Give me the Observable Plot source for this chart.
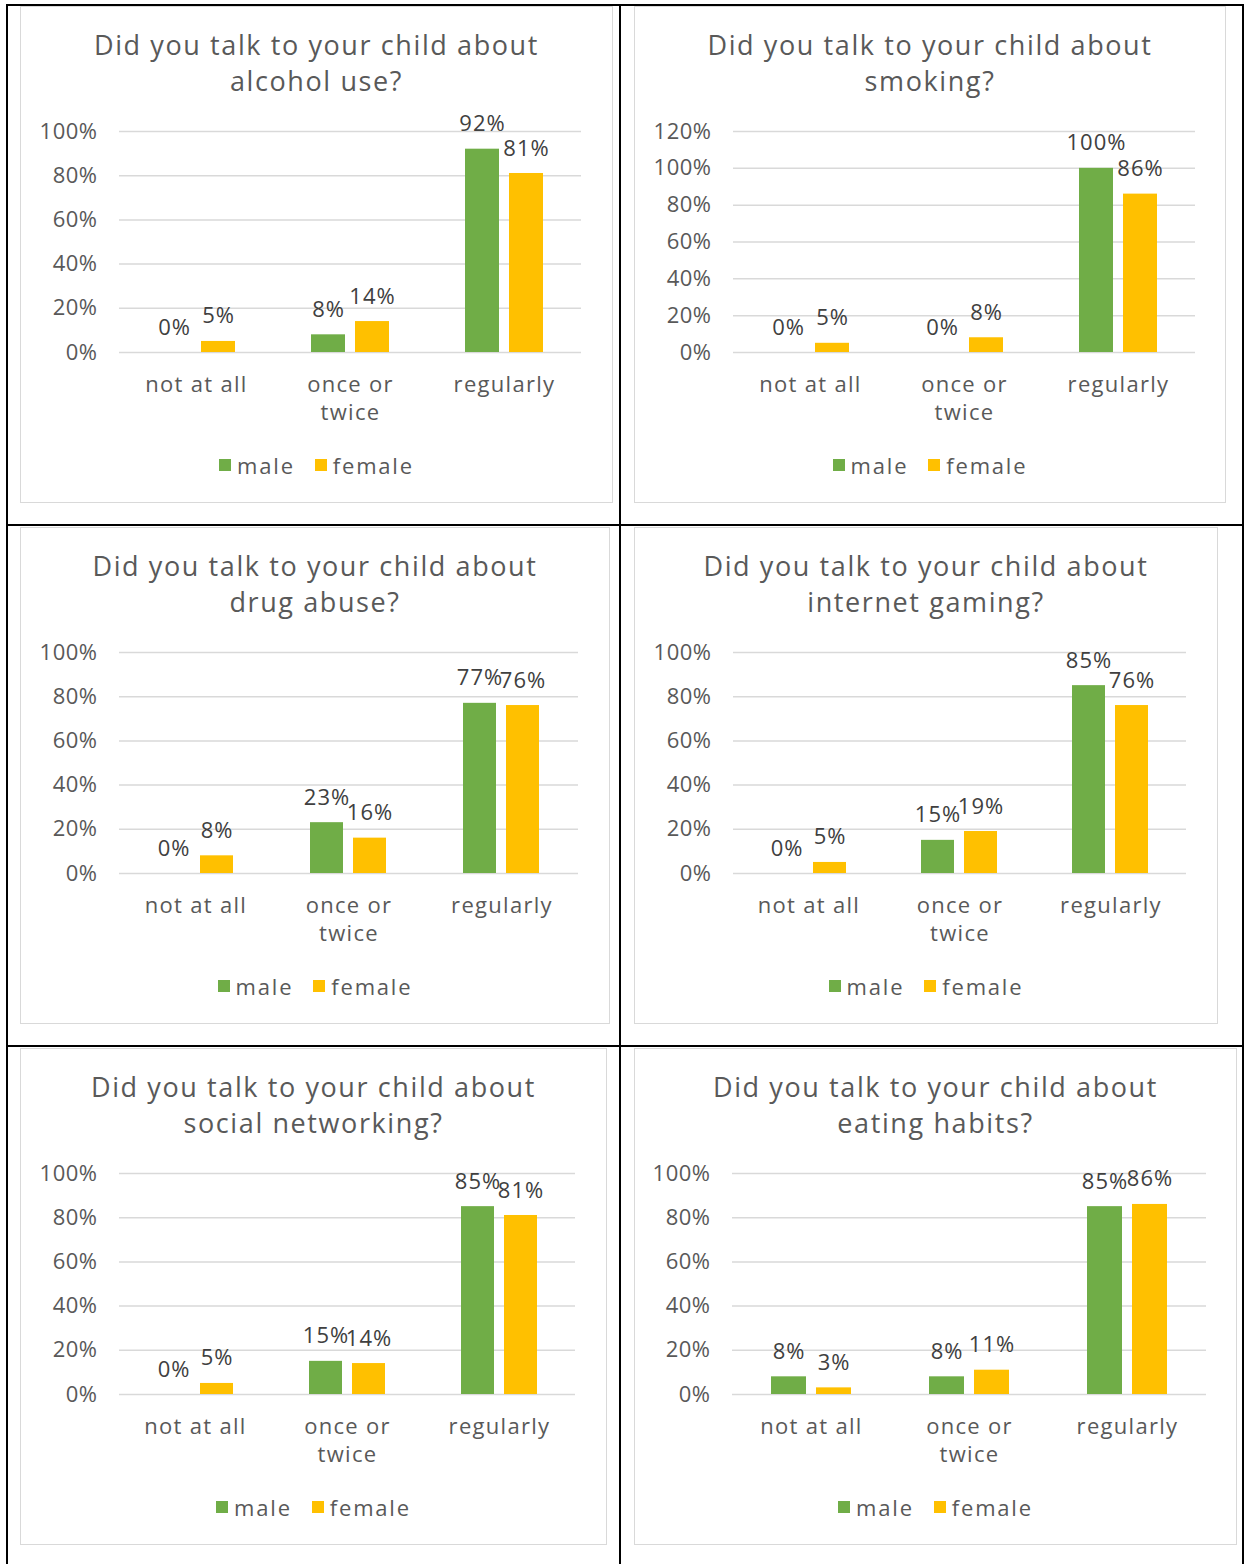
<!DOCTYPE html>
<html><head><meta charset="utf-8">
<script src="https://cdn.jsdelivr.net/npm/d3@7"></script>
<script src="https://cdn.jsdelivr.net/npm/@observablehq/plot@0.6"></script>
<style>
body{margin:0;background:#fff;}
#page{position:relative;width:1245px;height:1564px;font-family:"Open Sans",sans-serif;overflow:hidden;}
.line{position:absolute;background:#000;}
.box{position:absolute;box-sizing:border-box;border:1.5px solid #d9d9d9;background:#fff;}
.title{position:absolute;left:0;right:0;top:20px;text-align:center;font-size:27px;line-height:36px;color:#595959;white-space:pre;letter-spacing:1.6px;}
.plot{position:absolute;left:0;top:109px;}
.legend{position:absolute;left:0;right:0;top:444px;display:flex;justify-content:center;align-items:center;font-size:22px;line-height:28px;color:#595959;letter-spacing:1.8px;}
.sw{display:inline-block;width:12px;height:12px;margin-right:6px;}
.item{display:flex;align-items:center;margin:0 10px;}
.plot svg g[aria-label="fx-axis tick label"] text{letter-spacing:1.3px;}
.plot svg g[aria-label="y-axis tick label"] text{letter-spacing:0.5px;}
.plot svg g[aria-label="text"] text{letter-spacing:1px;}
</style></head>
<body><div id="page"></div>
<script>
// ---- data ----
const categories = ["not at all", "once or twice", "regularly"];
const categoryLabels = ["not at all", "once or\ntwice", "regularly"];
const series = ["male", "female"];
const seriesColors = ["#70AD47", "#FFC000"];
const titleTopics = ["alcohol use?", "smoking?", "drug abuse?", "internet gaming?", "social networking?", "eating habits?"];
const alcoholMale = [0, 8, 92];
const alcoholFemale = [5, 14, 81];
const smokingMale = [0, 0, 100];
const smokingFemale = [5, 8, 86];
const drugMale = [0, 23, 77];
const drugFemale = [8, 16, 76];
const gamingMale = [0, 15, 85];
const gamingFemale = [5, 19, 76];
const socialMale = [0, 15, 85];
const socialFemale = [5, 14, 81];
const eatingMale = [8, 8, 85];
const eatingFemale = [3, 11, 86];
const ticks100 = [0, 20, 40, 60, 80, 100];
const ticks120 = [0, 20, 40, 60, 80, 100, 120];

// ---- layout (box left, top, right, bottom) ----
const boxes = [
  [20, 6, 613, 503],
  [634, 6, 1226, 503],
  [20, 527, 610, 1024],
  [634, 527, 1218, 1024],
  [20, 1048, 607, 1545],
  [634, 1048, 1237, 1545]
];
const chartData = [
  [alcoholMale, alcoholFemale, ticks100],
  [smokingMale, smokingFemale, ticks120],
  [drugMale, drugFemale, ticks100],
  [gamingMale, gamingFemale, ticks100],
  [socialMale, socialFemale, ticks100],
  [eatingMale, eatingFemale, ticks100]
];

const FONT = '"Open Sans", sans-serif';
const page = document.getElementById("page");

// table lines
[[6, 4, 1238, 2], [6, 4, 2, 1560], [1242, 4, 2, 1560], [619, 4, 2, 1560], [6, 524, 1238, 2], [6, 1045, 1238, 2]]
  .forEach(([l, t, w, h]) => {
    const d = document.createElement("div");
    d.className = "line";
    Object.assign(d.style, {left: l + "px", top: t + "px", width: w + "px", height: h + "px"});
    page.appendChild(d);
  });

function makeChart(male, female, ticks, width) {
  const data = categories.flatMap((c, i) => [
    {cat: c, sex: "male", value: male[i]},
    {cat: c, sex: "female", value: female[i]}
  ]);
  const lab = c => categoryLabels[categories.indexOf(c)];
  return Plot.plot({
    width, height: 316,
    marginLeft: 97, marginRight: 29, marginTop: 15, marginBottom: 80,
    style: {fontFamily: FONT, fontSize: "22px", color: "#595959", background: "transparent", overflow: "visible"},
    fx: {domain: categories, padding: 0, label: null},
    x: {domain: series, paddingInner: 0.227, paddingOuter: 0.86, axis: null},
    y: {domain: [0, d3.max(ticks)], label: null},
    color: {domain: series, range: seriesColors},
    marks: [
      Plot.gridY(ticks, {stroke: "#d9d9d9", strokeOpacity: 1, strokeWidth: 1.5}),
      Plot.axisY(ticks, {tickSize: 0, tickPadding: 22, tickFormat: d => d + "%", label: null, fontSize: 22, fill: "#595959"}),
      Plot.axisFx({anchor: "bottom", tickSize: 0, tickPadding: 20, label: null, tickFormat: lab, lineHeight: 1.27, fontSize: 22, fill: "#595959"}),
      Plot.barY(data, {fx: "cat", x: "sex", y: "value", fill: "sex"}),
      Plot.text(data, {fx: "cat", x: "sex", y: "value", text: d => d.value + "%", dy: -25, fill: "#404040", fontSize: 22})
    ]
  });
}

boxes.forEach(([l, t, r, b], i) => {
  const box = document.createElement("div");
  box.className = "box";
  Object.assign(box.style, {left: l + "px", top: t + "px", width: (r - l) + "px", height: (b - t) + "px"});
  const title = document.createElement("div");
  title.className = "title";
  title.textContent = "Did you talk to your child about\n" + titleTopics[i];
  box.appendChild(title);
  const holder = document.createElement("div");
  holder.className = "plot";
  const [m, f, ticks] = chartData[i];
  holder.appendChild(makeChart(m, f, ticks, r - l - 3));
  box.appendChild(holder);
  const legend = document.createElement("div");
  legend.className = "legend";
  series.forEach((s, k) => {
    const it = document.createElement("span");
    it.className = "item";
    const sw = document.createElement("span");
    sw.className = "sw";
    sw.style.background = seriesColors[k];
    it.appendChild(sw);
    it.appendChild(document.createTextNode(s));
    legend.appendChild(it);
  });
  box.appendChild(legend);
  page.appendChild(box);
});
</script></body></html>
